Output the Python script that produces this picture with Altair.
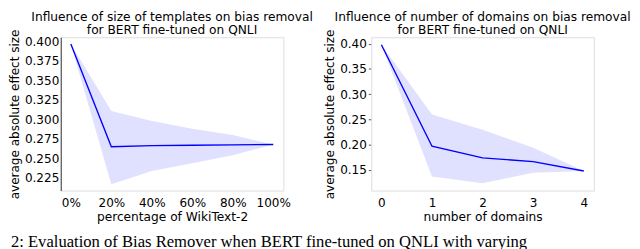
import altair as alt
import pandas as pd

# ---- data ----
left_x = [0, 20, 40, 60, 80, 100]
left_mean = [0.397, 0.265, 0.2665, 0.267, 0.2675, 0.268]
left_lower = [0.397, 0.217, 0.234, 0.244, 0.254, 0.268]
left_upper = [0.397, 0.311, 0.298, 0.288, 0.280, 0.268]
left_xticks = [0, 20, 40, 60, 80, 100]
left_yticks = [0.225, 0.250, 0.275, 0.300, 0.325, 0.350, 0.375, 0.400]

right_x = [0, 1, 2, 3, 4]
right_mean = [0.398, 0.197, 0.174, 0.1665, 0.148]
right_lower = [0.398, 0.137, 0.1235, 0.1445, 0.148]
right_upper = [0.398, 0.260, 0.2295, 0.194, 0.148]
right_xticks = [0, 1, 2, 3, 4]
right_yticks = [0.15, 0.20, 0.25, 0.30, 0.35, 0.40]

left_title = ["Influence of size of templates on bias removal", "for BERT fine-tuned on QNLI"]
right_title = ["Influence of number of domains on bias removal", "for BERT fine-tuned on QNLI"]
y_label = "average absolute effect size"
left_xlabel = "percentage of WikiText-2"
right_xlabel = "number of domains"
caption = ["2: Evaluation of Bias Remover when BERT fine-tuned on QNLI with varying"]

FONT = "DejaVu Sans"
W, H = 228, 157

left_df = pd.DataFrame({"x": left_x, "mean": left_mean, "lo": left_lower, "hi": left_upper})
right_df = pd.DataFrame({"x": right_x, "mean": right_mean, "lo": right_lower, "hi": right_upper})
cap_df = pd.DataFrame({"t": caption})


def title(lines):
    return alt.TitleParams(text=lines, fontSize=12.5, font=FONT, fontWeight="normal",
                           lineHeight=13.3, anchor="middle", frame="group", offset=-8,
                           color="black")


def panel(df, xdom, ydom, xticks, yticks, xfmt, yfmt, xlabel, ttl, left_dark, with_caption):
    xaxis = alt.Axis(values=xticks, labelExpr=xfmt, title=xlabel, grid=False, ticks=False,
                     domain=False, labelFont=FONT, labelFontSize=12.3, labelColor="black",
                     labelPadding=6, labelOverlap=False, titleFont=FONT, titleFontSize=12.5,
                     titleFontWeight="normal", titleColor="black", titlePadding=2)
    yaxis = alt.Axis(values=yticks, format=yfmt, title=y_label, grid=False,
                     ticks=not left_dark, tickSize=3, tickColor="#555555",
                     domain=True, domainColor="#333333" if left_dark else "#e8e8e8",
                     labelFont=FONT, labelFontSize=12.3, labelColor="black",
                     labelPadding=2, labelOverlap=False, titleFont=FONT, titleFontSize=12.3,
                     titleFontWeight="normal", titleColor="black", titlePadding=3)
    xscale = alt.Scale(domain=xdom, nice=False, zero=False)
    yscale = alt.Scale(domain=ydom, nice=False, zero=False)
    base = alt.Chart(df)
    band = base.mark_area(color="#0000ff", opacity=0.12).encode(
        x=alt.X("x:Q", scale=xscale, axis=xaxis),
        y=alt.Y("lo:Q", scale=yscale, axis=yaxis),
        y2="hi:Q",
    )
    line = base.mark_line(color="#0000ff", strokeWidth=1.4).encode(
        x=alt.X("x:Q", scale=xscale, axis=xaxis),
        y=alt.Y("mean:Q", scale=yscale, axis=yaxis),
    )
    layers = [band, line]
    if with_caption:
        cap = alt.Chart(cap_df).mark_text(font="Liberation Serif", fontSize=17, align="left",
                                          baseline="alphabetic", color="black").encode(
            x=alt.value(-51), y=alt.value(H + 58), text="t:N")
        layers.append(cap)
    return alt.layer(*layers).properties(width=W, height=H, title=title(ttl))


left = panel(left_df, [-5, 105], [0.2088, 0.4056], left_xticks, left_yticks,
             "datum.value + '%'", ".3f", left_xlabel, left_title, True, True)
right = panel(right_df, [-0.2, 4.2], [0.1092, 0.4128], right_xticks, right_yticks,
              "datum.label", ".2f", right_xlabel, right_title, False, False)

chart = alt.hconcat(left, right, spacing=90, bounds="flush").configure_view(
    stroke="#ebebeb", strokeWidth=1
).configure(background="white", padding=0)

chart.save("out.html", embed_options={"renderer": "svg", "actions": False})
